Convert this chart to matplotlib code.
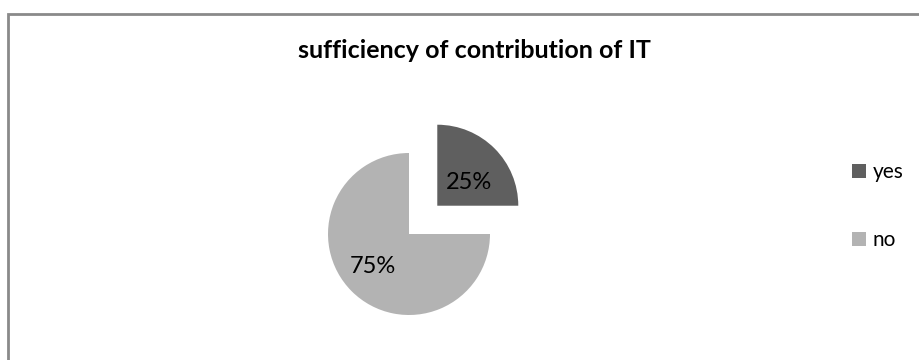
import matplotlib
matplotlib.use("Agg")
import matplotlib.pyplot as plt
from matplotlib.patches import Rectangle

labels = ["yes", "no"]
shares = [25, 75]
colors = ["#5f5f5f", "#b3b3b3"]
title = "sufficiency of contribution of IT"

plt.rcParams["font.family"] = ["Lato", "DejaVu Sans"]

W, H = 920, 360
fig = plt.figure(figsize=(W / 100, H / 100), dpi=100)
ax = fig.add_axes([0, 0, 1, 1])

# chart frame
ax.add_patch(Rectangle((8, -20), W + 20, H - 14 + 20, fill=False,
                       edgecolor="#8a8a8a", linewidth=2, zorder=0))

radius = 81
# explode offsets are in data units (pixels here): pull "yes" out of the pie
explode = [40, 0]
wedges, texts, autotexts = ax.pie(
    shares, colors=colors, explode=explode, startangle=90, counterclock=False,
    center=(409, H - 234), radius=radius, autopct="%d%%", pctdistance=0.56,
    textprops=dict(fontsize=17, color="black"), frame=True,
)
# nudge the percentage labels within their wedges
label_shift = [(0, -9), (-4, 0)]
for t, (dx, dy) in zip(autotexts, label_shift):
    x, y = t.get_position()
    t.set_position((x + dx, y + dy))

ax.set_xlim(0, W)
ax.set_ylim(0, H)
ax.set_aspect("equal")
ax.set_axis_off()

ax.text(474, H - 50, title, ha="center", va="center", fontsize=18,
        fontweight="bold", color="black")

leg = ax.legend(wedges, labels, loc="center left",
                bbox_to_anchor=(852 / W, 1 - 206 / H),
                frameon=False, fontsize=15, handlelength=0.65, handleheight=0.65,
                handletextpad=0.35, labelspacing=2.3, borderaxespad=0,
                borderpad=0)

fig.savefig("out.png", dpi=100)
